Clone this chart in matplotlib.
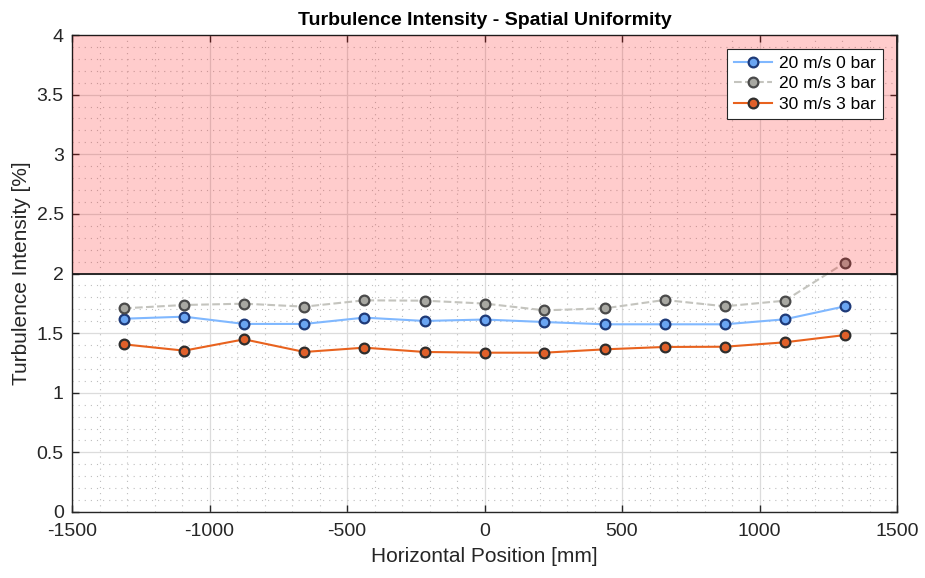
import numpy as np
import matplotlib
matplotlib.use('Agg')
import matplotlib.pyplot as plt
from matplotlib.ticker import MultipleLocator

plt.rcParams['font.family'] = ['Liberation Sans', 'DejaVu Sans']
plt.rcParams['axes.unicode_minus'] = False

# probe positions across the test section [mm]
x_pos = [-1311, -1092, -874, -655, -437, -218, 0, 218, 437, 655, 874, 1092, 1311]

# turbulence intensity [%]
ti_20ms_0bar = [1.621, 1.638, 1.577, 1.577, 1.630, 1.602, 1.614, 1.593, 1.574, 1.574, 1.574, 1.616, 1.725]
ti_20ms_3bar = [1.708, 1.736, 1.747, 1.722, 1.775, 1.772, 1.748, 1.691, 1.708, 1.778, 1.725, 1.772, 2.091]
ti_30ms_3bar = [1.406, 1.353, 1.448, 1.342, 1.378, 1.342, 1.336, 1.336, 1.364, 1.384, 1.386, 1.423, 1.484]

limit_ti = 2.0

fig = plt.figure(figsize=(9.25, 5.78), dpi=100)
ax = fig.add_axes([72/925, 1 - 512/578, 825/925, 477/578])

ax.plot(x_pos, ti_20ms_0bar, '-o', color='#80B8FF', lw=1.5, ms=7,
        mfc='#6AA5F2', mec='#1E3A78', mew=1.6, label='20 m/s 0 bar', zorder=4)
ax.plot(x_pos, ti_20ms_3bar, '--o', color='#C4C4BE', lw=1.5, ms=7,
        mfc='#A8A8A2', mec='#4A4A4A', mew=1.6, label='20 m/s 3 bar', zorder=4)
ax.plot(x_pos, ti_30ms_3bar, '-o', color='#E8621E', lw=1.5, ms=7,
        mfc='#E0602A', mec='#2E2E2E', mew=1.6, label='30 m/s 3 bar', zorder=4)

# out-of-spec band above the limit
ax.axhspan(limit_ti, 4, facecolor=(1, 0, 0, 0.2), edgecolor='#1a1a1a', lw=1.3, zorder=5)

ax.set_xlim(-1500, 1500)
ax.set_ylim(0, 4)
ax.xaxis.set_major_locator(MultipleLocator(500))
ax.xaxis.set_minor_locator(MultipleLocator(100))
ax.yaxis.set_minor_locator(MultipleLocator(0.1))
ax.set_yticks(np.arange(0, 4.01, 0.5))
ax.set_yticklabels(['0', '0.5', '1', '1.5', '2', '2.5', '3', '3.5', '4'])

ax.grid(True, which='major', color='#DCDCDC', lw=0.9, zorder=0)
ax.grid(True, which='minor', color='#BEBEBE', lw=0.8, ls=(0, (1, 4.5)), zorder=0)
ax.set_axisbelow(True)

ax.tick_params(which='major', direction='in', length=5, width=1, top=True, right=True,
               labelsize=14, labelcolor='#262626', color='#262626')
ax.tick_params(axis='x', which='major', pad=8)
ax.tick_params(axis='y', which='major', pad=6)
ax.tick_params(which='minor', length=0)
for s in ax.spines.values():
    s.set_color('#262626')
    s.set_linewidth(1.0)

ax.set_xlabel('Horizontal Position [mm]', fontsize=15, color='#262626', labelpad=5)
ax.set_ylabel('Turbulence Intensity [%]', fontsize=15, color='#262626', labelpad=4)
ax.set_title('Turbulence Intensity - Spatial Uniformity', fontsize=14, fontweight='bold', pad=7)

leg = ax.legend(loc='upper right', fontsize=12.5, frameon=True, fancybox=False,
                edgecolor='#262626', framealpha=1, borderpad=0.4, labelspacing=0.3,
                handlelength=2.2, handletextpad=0.4, borderaxespad=0.8)
leg.get_frame().set_linewidth(0.8)
leg.set_zorder(10)

fig.savefig('out.png', dpi=100)
